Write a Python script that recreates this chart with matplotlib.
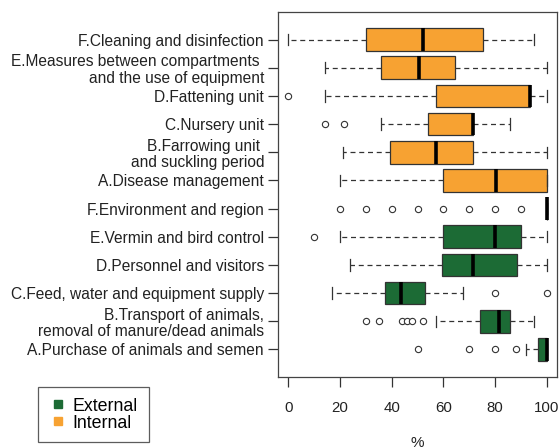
import matplotlib.pyplot as plt
from matplotlib.lines import Line2D

# Biosecurity subcategory scores (%), listed bottom to top
labels = [
    "A.Purchase of animals and semen",
    "B.Transport of animals,\nremoval of manure/dead animals",
    "C.Feed, water and equipment supply",
    "D.Personnel and visitors",
    "E.Vermin and bird control",
    "F.Environment and region",
    "A.Disease management",
    "B.Farrowing unit \nand suckling period",
    "C.Nursery unit",
    "D.Fattening unit",
    "E.Measures between compartments \nand the use of equipment",
    "F.Cleaning and disinfection",
]
group = ["External"] * 6 + ["Internal"] * 6

whislo = [92, 57, 17, 24, 20, 100, 20, 21, 36, 14, 14, 0]
q1     = [96.5, 74, 37.5, 59.5, 60, 100, 60, 39.5, 54, 57, 36, 30]
med    = [100, 81.5, 43.5, 71.5, 80, 100, 80.5, 57, 71.5, 93.5, 50.5, 52]
q3     = [100, 86, 53, 88.5, 90, 100, 100, 71.5, 71.5, 93.5, 64.5, 75.5]
whishi = [100, 95, 67.5, 100, 100, 100, 100, 100, 86, 100, 100, 95]
fliers = [
    [50, 70, 80, 88],
    [30, 35, 44, 46, 48, 52],
    [80, 100],
    [],
    [10],
    [20, 30, 40, 50, 60, 70, 80, 90],
    [],
    [],
    [14, 21.5],
    [0],
    [],
    [],
]

colors = {"External": "#1c6b35", "Internal": "#f7a232"}

stats = []
for i in range(len(labels)):
    stats.append({
        "whislo": whislo[i], "q1": q1[i], "med": med[i],
        "q3": q3[i], "whishi": whishi[i], "fliers": fliers[i],
    })

fig = plt.figure(figsize=(5.59, 4.48), dpi=100)
plt.rcParams["font.family"] = ["Liberation Sans", "DejaVu Sans"]
ax = fig.add_axes([278 / 559, 71 / 448, 279 / 559, 365 / 448])

positions = list(range(1, len(labels) + 1))
bp = ax.bxp(
    stats, positions=positions, vert=False, widths=0.8, patch_artist=True,
    showfliers=True,
    boxprops=dict(edgecolor="#333333", linewidth=0.9),
    medianprops=dict(color="black", linewidth=2.6, solid_capstyle="butt"),
    whiskerprops=dict(color="#333333", linewidth=0.9, linestyle=(0, (4, 3))),
    capprops=dict(color="#333333", linewidth=0.9),
    capwidths=0.4,
    flierprops=dict(marker="o", markersize=4.5, markerfacecolor="white",
                    markeredgecolor="#333333", markeredgewidth=0.8),
)
for patch, g in zip(bp["boxes"], group):
    patch.set_facecolor(colors[g])

ax.set_xlim(-4, 104)
ax.set_ylim(0.02, 12.98)
ax.set_xticks([0, 20, 40, 60, 80, 100])
ax.set_yticks(positions)
ax.set_yticklabels(labels, fontsize=11.2, color="#222222", linespacing=1.12)
ax.tick_params(axis="x", labelsize=10.8, length=7, width=0.9, pad=10,
               colors="#333333", labelcolor="#222222")
ax.tick_params(axis="y", length=7, width=0.9, pad=3, colors="#333333",
               labelcolor="#222222")
for s in ax.spines.values():
    s.set_color("#444444")
    s.set_linewidth(0.9)

fig.text(417.5 / 559, 5 / 448, "%", ha="center", va="center", fontsize=11,
         color="#222222")

handles = [
    Line2D([], [], marker="s", linestyle="none", markersize=5.5,
           markerfacecolor=colors[g], markeredgecolor=colors[g], label=g)
    for g in ["External", "Internal"]
]
leg = fig.legend(handles=handles, loc="upper left",
                 bbox_to_anchor=(38 / 559, 1 - 387 / 448), fontsize=12.8,
                 frameon=True, fancybox=False, edgecolor="#333333",
                 handletextpad=0.35, labelspacing=0.0, borderpad=0.6,
                 handlelength=1.0, borderaxespad=0)
leg.get_frame().set_linewidth(0.9)

fig.savefig("out.png", dpi=100)
